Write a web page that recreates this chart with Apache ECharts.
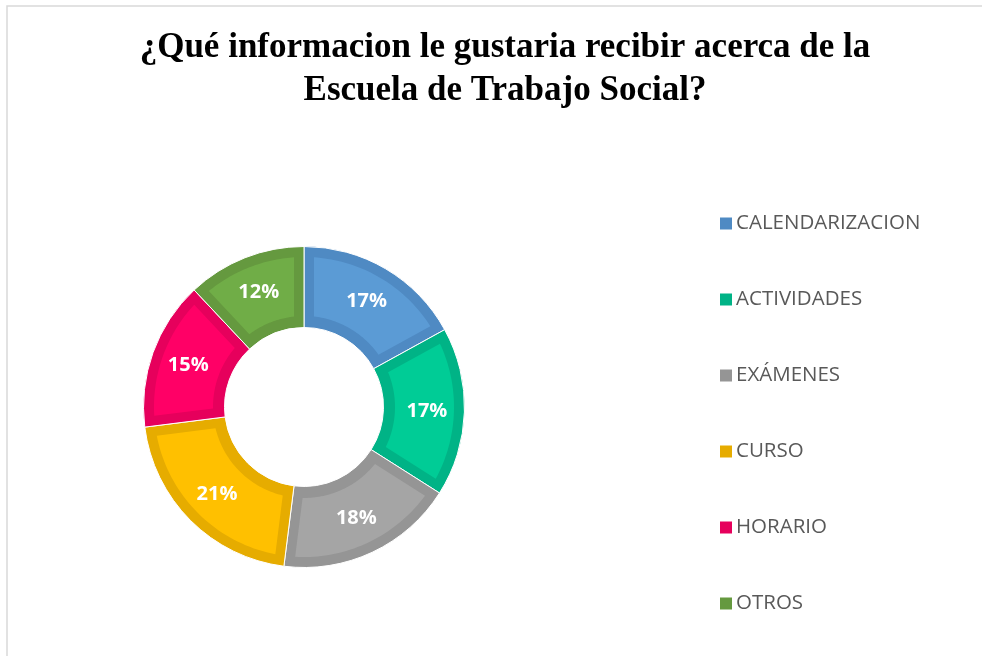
<!DOCTYPE html>
<html>
<head>
<meta charset="utf-8">
<script src="https://cdn.jsdelivr.net/npm/echarts@6/dist/echarts.min.js"></script>
<style>
  html, body { margin: 0; padding: 0; background: #fff; }
  #main { width: 982px; height: 656px; }
</style>
</head>
<body>
<div id="main"></div>
<script>
var categories = ['CALENDARIZACION', 'ACTIVIDADES', 'EXÁMENES', 'CURSO', 'HORARIO', 'OTROS'];
var values = [17, 17, 18, 21, 15, 12];
var fillColors = ['#5B9BD5', '#00CC96', '#A5A5A5', '#FFC000', '#FF0066', '#70AD47'];
var edgeColors = ['#4F8AC3', '#00B386', '#959595', '#E6AC00', '#E6005C', '#65993F'];

var CX = 304, CY = 407;
var R_IN = 80, R_OUT = 160;
var EDGE_SIDE = 10, EDGE_OUT = 10, EDGE_IN = 11;

function buildData(colors) {
  return categories.map(function (name, i) {
    return { name: name, value: values[i], itemStyle: { color: colors[i] } };
  });
}

var total = values.reduce(function (a, b) { return a + b; }, 0);

// relleno interior: deja un borde oscuro de ancho constante (estilo Excel)
function renderFill(params, api) {
  var i = params.dataIndex;
  var before = 0;
  for (var k = 0; k < i; k++) before += values[k];
  var a0 = before / total * 2 * Math.PI;
  var a1 = (before + api.value(1)) / total * 2 * Math.PI;
  var r0 = R_IN + EDGE_IN, r1 = R_OUT - EDGE_OUT;
  function pt(r, a) { return [CX + r * Math.sin(a), CY - r * Math.cos(a)]; }
  var pts = [];
  var n = 40;
  var s1 = a0 + Math.asin(EDGE_SIDE / r1), e1 = a1 - Math.asin(EDGE_SIDE / r1);
  for (var j = 0; j <= n; j++) pts.push(pt(r1, s1 + (e1 - s1) * j / n));
  var s0 = a0 + Math.asin(EDGE_SIDE / r0), e0 = a1 - Math.asin(EDGE_SIDE / r0);
  for (var j2 = n; j2 >= 0; j2--) pts.push(pt(r0, s0 + (e0 - s0) * j2 / n));
  return {
    type: 'polygon',
    shape: { points: pts },
    style: { fill: fillColors[i] }
  };
}

var myChart = echarts.init(document.getElementById('main'));
var option = {
  backgroundColor: '#fff',
  animation: false,
  title: {
    text: '¿Qué informacion le gustaria recibir acerca de la\nEscuela de Trabajo Social?',
    left: 500,
    top: 21,
    textAlign: 'center',
    textStyle: {
      fontFamily: 'Liberation Serif',
      fontWeight: 'bold',
      fontSize: 35,
      lineHeight: 43,
      color: '#000'
    }
  },
  legend: {
    orient: 'vertical',
    left: 718,
    top: 213,
    padding: 0,
    itemWidth: 14,
    itemHeight: 14,
    itemGap: 55,
    icon: 'rect',
    data: categories.map(function (name, i) {
      return { name: name, itemStyle: { color: edgeColors[i] } };
    }),
    textStyle: { fontFamily: 'Open Sans', fontSize: 20.5, color: '#595959', padding: [0, 0, 0, -2] }
  },
  graphic: [{
    type: 'rect',
    shape: { x: 7, y: 6, width: 1000, height: 700 },
    style: { fill: 'none', stroke: '#D9D9D9', lineWidth: 1.5 },
    silent: true
  }],
  series: [
    {
      name: 'borde',
      type: 'pie',
      z: 2,
      center: [CX, CY],
      radius: [R_IN - 0.5, R_OUT + 0.5],
      startAngle: 90,
      clockwise: true,
      silent: true,
      label: { show: false },
      labelLine: { show: false },
      itemStyle: { borderColor: '#fff', borderWidth: 1 },
      data: buildData(edgeColors)
    },
    {
      name: 'relleno',
      type: 'custom',
      z: 3,
      coordinateSystem: 'none',
      silent: true,
      renderItem: renderFill,
      data: values.map(function (v, i) { return [i, v]; })
    },
    {
      name: 'etiquetas',
      type: 'pie',
      z: 4,
      center: [CX, CY],
      radius: [R_IN, R_OUT],
      startAngle: 90,
      clockwise: true,
      silent: true,
      itemStyle: { color: 'rgba(0,0,0,0)', borderWidth: 0 },
      label: {
        show: true,
        position: 'inside',
        formatter: '{c}%',
        color: '#fff',
        fontFamily: 'Open Sans',
        fontWeight: 'bold',
        fontSize: 20
      },
      labelLine: { show: false },
      data: categories.map(function (name, i) { return { name: name, value: values[i] }; })
    }
  ]
};
myChart.setOption(option);
</script>
</body>
</html>
